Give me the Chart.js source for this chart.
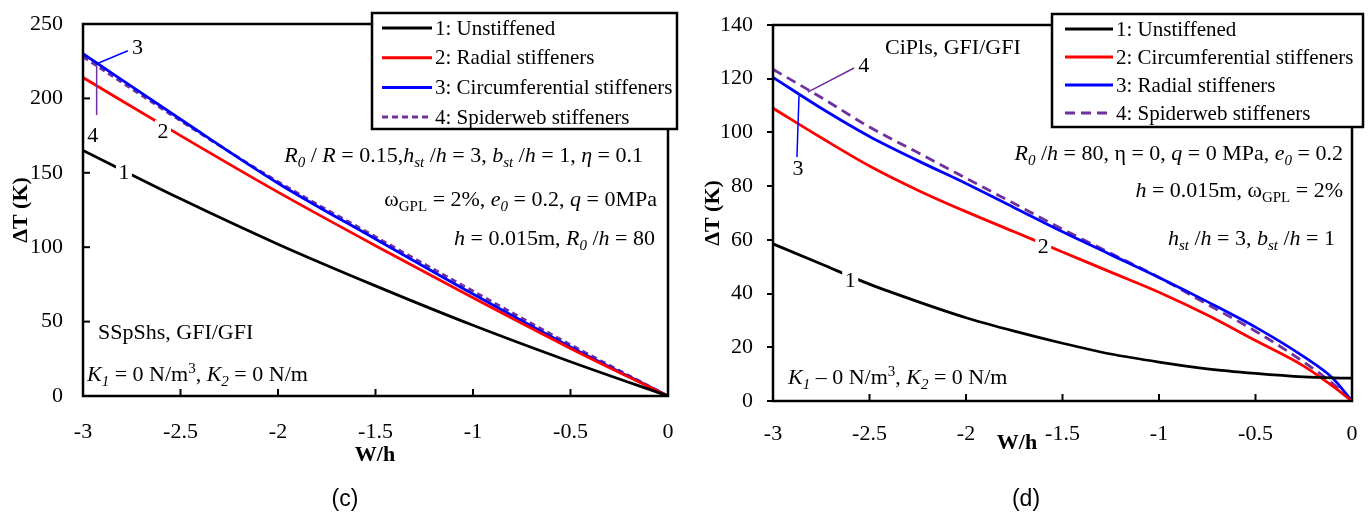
<!DOCTYPE html>
<html>
<head>
<meta charset="utf-8">
<script src="https://cdn.jsdelivr.net/npm/chart.js@4.4.0/dist/chart.umd.min.js"></script>
<style>
  body { margin: 0; background: #fff; width: 1370px; height: 516px; overflow: hidden; }
  .box { position: absolute; top: 0; width: 685px; height: 516px; }
</style>
</head>
<body>
<div class="box" style="left:0"><canvas id="chartC"></canvas></div>
<div class="box" style="left:685px"><canvas id="chartD"></canvas></div>
<script>
// ---- data ----
// (c) SSpShs, GFI/GFI
const wC = [-3, -2.5, -2, -1.5, -1, -0.5, 0];
const unstiffC = [165, 132.5, 102, 74, 47.5, 23, 0];
const radialC = [214, 175, 137, 101, 66, 32, 0];
const circC = [230, 186, 143, 105.5, 68.5, 33, 0];
const spiderC = [228, 185, 144, 107, 70.5, 34.5, 0];
const labelsC = ['1: Unstiffened', '2: Radial stiffeners', '3: Circumferential stiffeners', '4: Spiderweb stiffeners'];

// (d) CiPls, GFI/GFI
const wD = [-3, -2.75, -2.5, -2.25, -2, -1.75, -1.5, -1.25, -1, -0.75, -0.5, -0.25, -0.1, 0];
const unstiffD = [58.5, 51, 43.5, 37, 31, 26, 21.5, 17.5, 14.5, 12, 10.3, 9, 8.6, 8.5];
const circD = [109, 98, 87.5, 78.5, 70.5, 63, 55.5, 48, 40.5, 32, 22.5, 13, 5.5, 0];
const radialD = [120.5, 109, 98.5, 89.5, 81, 72, 63, 54.5, 46, 37, 27.5, 16.5, 8.5, 0];
const spiderD = [123.5, 113, 102, 92.5, 83, 73.5, 64, 55, 46, 36, 26, 14.5, 6.5, 0];
const labelsD = ['1: Unstiffened', '2: Circumferential stiffeners', '3: Radial stiffeners', '4: Spiderweb stiffeners'];

const xTicks = { min: -3, max: 0, step: 0.5 };
const yTicksC = { min: 0, max: 250, step: 50 };
const yTicksD = { min: 0, max: 140, step: 20 };

const SERIF = '"Liberation Serif", "Times New Roman", serif';
const PURPLE = '#7030a0';

function pts(xs, ys) { return xs.map((x, i) => ({ x: x, y: ys[i] })); }

// text made of runs: flags i = italic, s = subscript, p = superscript
function richText(ctx, parts, x, y, align, size) {
  const fontFor = f => (f.includes('i') ? 'italic ' : '') +
    ((f.includes('s') || f.includes('p')) ? Math.round(size * 0.66) : size) + 'px ' + SERIF;
  let w = 0;
  parts.forEach(([t, f]) => { ctx.font = fontFor(f); w += ctx.measureText(t).width; });
  let cx = align === 'right' ? x - w : x;
  ctx.textAlign = 'left';
  ctx.textBaseline = 'alphabetic';
  parts.forEach(([t, f]) => {
    ctx.font = fontFor(f);
    const dy = f.includes('s') ? size * 0.22 : f.includes('p') ? -size * 0.36 : 0;
    ctx.fillText(t, cx, y + size * 0.33 + dy);
    cx += ctx.measureText(t).width;
  });
}

const decor = {
  id: 'decor',
  afterDraw(chart, args, o) {
    const ctx = chart.ctx;
    const a = chart.chartArea;
    const xs = chart.scales.x, ys = chart.scales.y;
    ctx.save();
    ctx.fillStyle = '#000';

    // callout numbers sitting in gaps of the curves
    (o.numbers || []).forEach(n => {
      const px = xs.getPixelForValue(n.x), py = ys.getPixelForValue(n.y);
      ctx.font = '22px ' + SERIF;
      if (n.gap) {
        ctx.fillStyle = '#fff';
        ctx.fillRect(px - 8, py - 11, 16, 22);
      }
      ctx.fillStyle = '#000';
      ctx.textAlign = 'center';
      ctx.textBaseline = 'middle';
      ctx.fillText(n.t, px, py + 1);
    });
    (o.leaders || []).forEach(l => {
      ctx.strokeStyle = l.color;
      ctx.lineWidth = 1.5;
      ctx.beginPath();
      ctx.moveTo(xs.getPixelForValue(l.from[0]), ys.getPixelForValue(l.from[1]));
      ctx.lineTo(xs.getPixelForValue(l.to[0]), ys.getPixelForValue(l.to[1]));
      ctx.stroke();
    });

    // frame
    ctx.strokeStyle = '#000';
    ctx.lineWidth = 2.5;
    ctx.strokeRect(a.left, a.top, a.right - a.left, a.bottom - a.top);

    // inward tick marks
    ctx.lineWidth = 2;
    xs.ticks.forEach(t => {
      const px = xs.getPixelForValue(t.value);
      ctx.beginPath(); ctx.moveTo(px, a.bottom); ctx.lineTo(px, a.bottom - 7); ctx.stroke();
    });
    if (o.yInward) {
      ys.ticks.forEach(t => {
        const py = ys.getPixelForValue(t.value);
        ctx.beginPath(); ctx.moveTo(a.left, py); ctx.lineTo(a.left + 7, py); ctx.stroke();
      });
    }

    // annotation text
    ctx.fillStyle = '#000';
    (o.texts || []).forEach(t => richText(ctx, t.parts, t.x, t.y, t.align, 22));

    // x axis title and caption
    ctx.textAlign = 'center';
    ctx.textBaseline = 'middle';
    ctx.font = 'bold 22px ' + SERIF;
    ctx.fillText('W/h', o.xTitle[0], o.xTitle[1]);
    ctx.font = '23px "Liberation Sans", Arial, sans-serif';
    ctx.fillText(o.caption[0], o.caption[1], o.caption[2]);

    // legend
    const L = o.legend;
    ctx.fillStyle = '#fff';
    ctx.fillRect(L.left, L.top, L.right - L.left, L.bottom - L.top);
    ctx.strokeStyle = '#000';
    ctx.lineWidth = 2.5;
    ctx.strokeRect(L.left, L.top, L.right - L.left, L.bottom - L.top);
    chart.data.datasets.forEach((ds, i) => {
      const yy = L.top + L.first + i * L.row;
      ctx.strokeStyle = ds.borderColor;
      ctx.lineWidth = 3;
      ctx.setLineDash(ds.borderDash || []);
      ctx.beginPath(); ctx.moveTo(L.left + L.x0, yy); ctx.lineTo(L.left + L.x1, yy); ctx.stroke();
      ctx.setLineDash([]);
      ctx.fillStyle = '#000';
      ctx.font = '21px ' + SERIF;
      ctx.textAlign = 'left';
      ctx.textBaseline = 'middle';
      ctx.fillText(ds.label, L.left + L.x1 + 3, yy + 1);
    });
    ctx.restore();
  }
};

function makeChart(id, xsArr, series, labels, dashes, yT, cfg) {
  const colors = ['#000000', '#ff0000', '#0000ff', PURPLE];
  return new Chart(document.getElementById(id), {
    type: 'line',
    data: {
      datasets: series.map((s, i) => ({
        label: labels[i],
        data: pts(xsArr, s),
        borderColor: colors[i],
        borderWidth: 2.8,
        borderDash: i === 3 ? dashes : [],
        pointRadius: 0,
        cubicInterpolationMode: 'monotone',
        fill: false
      }))
    },
    options: {
      responsive: true,
      maintainAspectRatio: false,
      animation: false,
      events: [],
      layout: { padding: cfg.padding },
      plugins: { legend: { display: false }, tooltip: { enabled: false }, decor: cfg.decor },
      scales: {
        x: {
          type: 'linear', min: xTicks.min, max: xTicks.max,
          afterFit: s => { s.height = cfg.xHeight; s.paddingLeft = 0; s.paddingRight = 0; },
          border: { display: false },
          grid: { display: false },
          ticks: { stepSize: xTicks.step, color: '#000', padding: cfg.xPad, maxRotation: 0,
                   callback: v => String(v === 0 ? 0 : v),
                   font: { family: SERIF, size: 22 } }
        },
        y: {
          min: yT.min, max: yT.max,
          afterFit: s => { s.width = cfg.yWidth; s.paddingTop = 0; s.paddingBottom = 0; },
          border: { display: false },
          grid: cfg.yGrid,
          ticks: { stepSize: yT.step, color: '#000', padding: cfg.yPad,
                   callback: v => String(v),
                   font: { family: SERIF, size: 22 } },
          title: { display: true, text: 'ΔT (K)', color: '#000',
                   font: { family: SERIF, size: 22, weight: 'bold' },
                   padding: { top: cfg.yTitlePad, bottom: 0 } }
        }
      }
    },
    plugins: [decor]
  });
}

makeChart('chartC', wC, [unstiffC, radialC, circC, spiderC], labelsC, [6, 4], yTicksC, {
  padding: { top: 24, right: 17, left: 0, bottom: 0 },
  xHeight: 120, yWidth: 83, xPad: 15, yPad: 12, yTitlePad: 8,
  yGrid: { display: false },
  decor: {
    yInward: true,
    xTitle: [375, 455],
    caption: ['(c)', 345, 500],
    legend: { left: 372, top: 13, right: 677, bottom: 129, first: 15, row: 29.7, x0: 10, x1: 60 },
    numbers: [
      { t: '1', x: -2.79, y: 150.5, gap: true },
      { t: '2', x: -2.59, y: 178, gap: true },
      { t: '3', x: -2.72, y: 234.5 },
      { t: '4', x: -2.95, y: 175.4 }
    ],
    leaders: [
      { from: [-2.92, 223.8], to: [-2.77, 232], color: '#0000ff' },
      { from: [-2.93, 222.4], to: [-2.93, 188.8], color: PURPLE }
    ],
    texts: [
      { align: 'right', x: 643, y: 155, parts: [['R', 'i'], ['0', 'is'], [' / ', ''], ['R', 'i'], [' = 0.15,', ''], ['h', 'i'], ['st', 'is'], [' /', ''], ['h', 'i'], [' = 3, ', ''], ['b', 'i'], ['st', 'is'], [' /', ''], ['h', 'i'], [' = 1, ', ''], ['η', 'i'], [' = 0.1', '']] },
      { align: 'right', x: 657, y: 199, parts: [['ω', ''], ['GPL', 's'], [' = 2%, ', ''], ['e', 'i'], ['0', 'is'], [' = 0.2, ', ''], ['q', 'i'], [' = 0MPa', '']] },
      { align: 'right', x: 655, y: 238, parts: [['h', 'i'], [' = 0.015m, ', ''], ['R', 'i'], ['0', 'is'], [' /', ''], ['h', 'i'], [' = 80', '']] },
      { align: 'left', x: 98, y: 332, parts: [['SSpShs, GFI/GFI', '']] },
      { align: 'left', x: 87, y: 374, parts: [['K', 'i'], ['1', 'is'], [' = 0 N/m', ''], ['3', 'p'], [', ', ''], ['K', 'i'], ['2', 'is'], [' = 0 N/m', '']] }
    ]
  }
});

makeChart('chartD', wD, [unstiffD, circD, radialD, spiderD], labelsD, [10, 6], yTicksD, {
  padding: { top: 25, right: 18, left: 0, bottom: 0 },
  xHeight: 115, yWidth: 88, xPad: 12, yPad: 14, yTitlePad: 15,
  yGrid: { display: true, drawOnChartArea: false, drawTicks: true, tickLength: 6, color: '#000', lineWidth: 2 },
  decor: {
    yInward: false,
    xTitle: [332, 443],
    caption: ['(d)', 341, 500],
    legend: { left: 367, top: 14, right: 678, bottom: 127, first: 15, row: 28, x0: 13, x1: 61 },
    numbers: [
      { t: '1', x: -2.6, y: 45, gap: true },
      { t: '2', x: -1.6, y: 57.5, gap: true },
      { t: '3', x: -2.87, y: 86.7 },
      { t: '4', x: -2.53, y: 125 }
    ],
    leaders: [
      { from: [-2.82, 115], to: [-2.58, 124], color: PURPLE },
      { from: [-2.865, 114], to: [-2.876, 90.8], color: '#0000ff' }
    ],
    texts: [
      { align: 'left', x: 200, y: 47, parts: [['CiPls, GFI/GFI', '']] },
      { align: 'right', x: 658, y: 153, parts: [['R', 'i'], ['0', 'is'], [' /', ''], ['h', 'i'], [' = 80, η = 0, ', ''], ['q', 'i'], [' = 0 MPa, ', ''], ['e', 'i'], ['0', 'is'], [' = 0.2', '']] },
      { align: 'right', x: 658, y: 190, parts: [['h', 'i'], [' = 0.015m, ω', ''], ['GPL', 's'], [' = 2%', '']] },
      { align: 'right', x: 650, y: 238, parts: [['h', 'i'], ['st', 'is'], [' /', ''], ['h', 'i'], [' = 3, ', ''], ['b', 'i'], ['st', 'is'], [' /', ''], ['h', 'i'], [' = 1', '']] },
      { align: 'left', x: 103, y: 377, parts: [['K', 'i'], ['1', 'is'], [' – 0 N/m', ''], ['3', 'p'], [', ', ''], ['K', 'i'], ['2', 'is'], [' = 0 N/m', '']] }
    ]
  }
});
</script>
</body>
</html>
